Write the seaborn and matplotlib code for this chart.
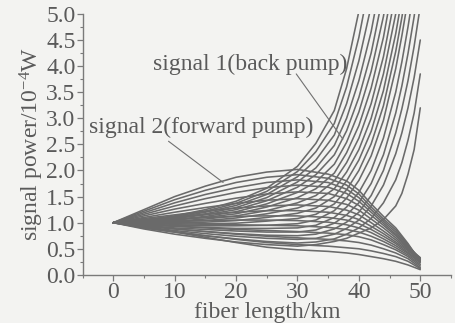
import numpy as np
import pandas as pd
import matplotlib
matplotlib.use("Agg")
import matplotlib.pyplot as plt
from matplotlib.ticker import MultipleLocator
import seaborn as sns

# ---------------- data ----------------
# signal 2 : forward pump
forward_km = [0, 5, 10, 15, 20, 25, 30, 35, 38, 40, 42, 44, 46, 48, 50]
forward_signal = [
    [1.00, 1.25, 1.50, 1.70, 1.87, 1.97, 2.02, 1.93, 1.80, 1.62, 1.36, 1.12, 0.90, 0.60, 0.25],
    [1.00, 1.22, 1.44, 1.62, 1.77, 1.87, 1.92, 1.85, 1.72, 1.55, 1.30, 1.07, 0.86, 0.58, 0.28],
    [1.00, 1.19, 1.38, 1.54, 1.67, 1.77, 1.82, 1.77, 1.64, 1.48, 1.25, 1.03, 0.82, 0.56, 0.30],
    [1.00, 1.16, 1.32, 1.46, 1.58, 1.67, 1.72, 1.68, 1.56, 1.41, 1.20, 0.99, 0.78, 0.54, 0.32],
    [1.00, 1.13, 1.26, 1.37, 1.47, 1.55, 1.59, 1.56, 1.46, 1.33, 1.14, 0.95, 0.75, 0.52, 0.33],
    [1.00, 1.10, 1.20, 1.29, 1.37, 1.43, 1.46, 1.43, 1.35, 1.24, 1.07, 0.90, 0.71, 0.50, 0.31],
    [1.00, 1.08, 1.15, 1.22, 1.28, 1.32, 1.34, 1.31, 1.24, 1.15, 1.00, 0.84, 0.67, 0.48, 0.29],
    [1.00, 1.06, 1.11, 1.16, 1.20, 1.23, 1.23, 1.20, 1.14, 1.06, 0.93, 0.79, 0.63, 0.46, 0.27],
    [1.00, 1.04, 1.07, 1.10, 1.12, 1.13, 1.13, 1.10, 1.05, 0.98, 0.87, 0.74, 0.60, 0.43, 0.25],
    [1.00, 1.02, 1.03, 1.04, 1.05, 1.05, 1.04, 1.01, 0.96, 0.90, 0.81, 0.69, 0.56, 0.41, 0.23],
    [1.00, 0.99, 0.98, 0.97, 0.96, 0.95, 0.94, 0.91, 0.87, 0.82, 0.74, 0.64, 0.52, 0.38, 0.20],
    [1.00, 0.96, 0.93, 0.90, 0.87, 0.85, 0.83, 0.80, 0.77, 0.73, 0.67, 0.58, 0.48, 0.35, 0.17],
    [1.00, 0.94, 0.88, 0.83, 0.78, 0.74, 0.71, 0.68, 0.65, 0.62, 0.57, 0.50, 0.42, 0.31, 0.14],
    [1.00, 0.91, 0.83, 0.75, 0.68, 0.62, 0.58, 0.55, 0.52, 0.50, 0.46, 0.41, 0.35, 0.26, 0.12],
    [1.00, 0.90, 0.82, 0.72, 0.62, 0.53, 0.48, 0.45, 0.42, 0.39, 0.35, 0.31, 0.26, 0.19, 0.10],
]

# signal 1 : back pump
back_km = [0, 5, 10, 15, 20, 25, 30, 33, 36, 38, 40, 42, 44, 46, 47, 48, 49, 50]
back_signal = [
    [1.00, 1.05, 1.13, 1.25, 1.41, 1.66, 2.08, 2.52, 3.15, 3.95, 5.05, 6.40, 8.10, 10.2, 11.4, 12.8, 14.3, 16.0],
    [1.00, 1.05, 1.12, 1.22, 1.37, 1.60, 1.98, 2.36, 2.90, 3.60, 4.55, 5.75, 7.30, 9.20, 10.3, 11.6, 13.0, 14.5],
    [1.00, 1.04, 1.10, 1.20, 1.33, 1.54, 1.88, 2.20, 2.68, 3.28, 4.10, 5.15, 6.50, 8.30, 9.30, 10.5, 11.8, 13.2],
    [1.00, 1.04, 1.09, 1.17, 1.29, 1.48, 1.78, 2.05, 2.48, 3.00, 3.72, 4.66, 5.90, 7.50, 8.40, 9.50, 10.7, 12.0],
    [1.00, 1.03, 1.08, 1.15, 1.25, 1.42, 1.68, 1.92, 2.30, 2.76, 3.40, 4.25, 5.40, 6.90, 7.80, 8.80, 9.90, 11.1],
    [1.00, 1.03, 1.06, 1.12, 1.21, 1.36, 1.58, 1.78, 2.12, 2.54, 3.12, 3.90, 4.95, 6.35, 7.20, 8.10, 9.10, 10.2],
    [1.00, 1.02, 1.05, 1.10, 1.17, 1.30, 1.48, 1.65, 1.95, 2.34, 2.86, 3.58, 4.55, 5.85, 6.65, 7.50, 8.45, 9.50],
    [1.00, 1.01, 1.03, 1.07, 1.13, 1.23, 1.38, 1.52, 1.80, 2.15, 2.62, 3.28, 4.18, 5.40, 6.15, 7.00, 7.90, 8.90],
    [1.00, 1.00, 1.02, 1.04, 1.09, 1.17, 1.28, 1.40, 1.65, 1.97, 2.40, 3.00, 3.85, 5.00, 5.70, 6.50, 7.35, 8.30],
    [1.00, 0.99, 1.00, 1.01, 1.04, 1.10, 1.18, 1.28, 1.50, 1.80, 2.20, 2.75, 3.53, 4.62, 5.30, 6.05, 6.90, 7.80],
    [1.00, 0.98, 0.97, 0.98, 0.99, 1.03, 1.08, 1.16, 1.36, 1.63, 2.00, 2.51, 3.24, 4.28, 4.93, 5.65, 6.45, 7.35],
    [1.00, 0.97, 0.95, 0.94, 0.94, 0.95, 0.98, 1.05, 1.23, 1.47, 1.81, 2.28, 2.96, 3.95, 4.58, 5.28, 6.05, 6.90],
    [1.00, 0.96, 0.93, 0.91, 0.89, 0.89, 0.90, 0.95, 1.10, 1.30, 1.58, 2.00, 2.62, 3.50, 4.08, 4.75, 5.50, 6.40],
    [1.00, 0.95, 0.90, 0.87, 0.84, 0.82, 0.82, 0.86, 0.99, 1.15, 1.38, 1.75, 2.30, 3.10, 3.62, 4.24, 4.95, 5.80],
    [1.00, 0.93, 0.88, 0.83, 0.79, 0.76, 0.75, 0.78, 0.88, 1.01, 1.20, 1.52, 2.00, 2.72, 3.18, 3.72, 4.38, 5.15],
    [1.00, 0.92, 0.85, 0.79, 0.74, 0.70, 0.68, 0.70, 0.78, 0.89, 1.05, 1.32, 1.72, 2.32, 2.72, 3.20, 3.78, 4.50],
    [1.00, 0.90, 0.82, 0.75, 0.69, 0.64, 0.61, 0.63, 0.69, 0.78, 0.90, 1.08, 1.38, 1.82, 2.15, 2.58, 3.10, 3.85],
    [1.00, 0.88, 0.78, 0.70, 0.63, 0.58, 0.55, 0.58, 0.64, 0.70, 0.80, 0.90, 1.06, 1.32, 1.56, 1.93, 2.40, 3.20],
]

x_ticks = [0, 10, 20, 30, 40, 50]
y_ticks = [0.0, 0.5, 1.0, 1.5, 2.0, 2.5, 3.0, 3.5, 4.0, 4.5, 5.0]

label_back = "signal 1(back pump)"
label_forward = "signal 2(forward pump)"

# ---------------- build long tables ----------------
def to_long(km, rows):
    recs = []
    for i, row in enumerate(rows):
        for x, y in zip(km, row):
            recs.append({"km": x, "P": y, "curve": i})
    return pd.DataFrame(recs)

df_f = to_long(forward_km, forward_signal)
df_b = to_long(back_km, back_signal)

# ---------------- style ----------------
sns.set_style("ticks")
plt.rcParams["font.family"] = ["Liberation Serif", "DejaVu Serif"]
plt.rcParams["mathtext.fontset"] = "custom"
plt.rcParams["mathtext.rm"] = "Liberation Serif"
plt.rcParams["mathtext.it"] = "Liberation Serif:italic"

ink = "#5a5a5a"
line_col = "#6a6a6a"
bg = "#f3f3f1"

fig = plt.figure(figsize=(4.56, 3.23), dpi=100, facecolor=bg)
ax = fig.add_axes([0.181, 0.149, 0.808, 0.808])
ax.set_facecolor(bg)

sns.lineplot(data=df_f, x="km", y="P", units="curve", estimator=None,
             color=line_col, lw=1.15, ax=ax, legend=False)
sns.lineplot(data=df_b, x="km", y="P", units="curve", estimator=None,
             color=line_col, lw=1.15, ax=ax, legend=False)

ax.set_xlim(-5, 55)
ax.set_ylim(0, 5.0)
ax.set_xticks(x_ticks)
ax.set_yticks(y_ticks)
ax.set_yticklabels([f"{v:.1f}" for v in y_ticks])
ax.xaxis.set_minor_locator(MultipleLocator(5))
ax.yaxis.set_minor_locator(MultipleLocator(0.25))

for s in ["top", "right"]:
    ax.spines[s].set_visible(False)
for s in ["left", "bottom"]:
    ax.spines[s].set_color("#7a7a7a")
    ax.spines[s].set_linewidth(1.0)

ax.tick_params(axis="both", which="major", labelsize=17, colors="#7a7a7a",
               labelcolor=ink, length=4, width=0.9, pad=1, direction="out")
ax.tick_params(axis="both", which="minor", colors="#7a7a7a", length=2.5,
               width=0.8, direction="out")

ax.set_xlabel("fiber length/km", fontsize=17, color=ink)
ax.xaxis.set_label_coords(0.5, -0.105)
ax.set_ylabel(r"signal power/10$^{-4}$W", fontsize=17, color=ink, labelpad=0)

# annotations
ax.text(22.3, 4.04, label_back, fontsize=17, color=ink, ha="center", va="center")
ax.plot([29.8, 37.4], [3.85, 2.6], color="#707070", lw=0.8)
ax.text(14.4, 2.83, label_forward, fontsize=17, color=ink, ha="center", va="center")
ax.plot([9.0, 17.9], [2.56, 1.77], color="#707070", lw=0.8)

fig.savefig("out.png", dpi=100, facecolor=bg)
